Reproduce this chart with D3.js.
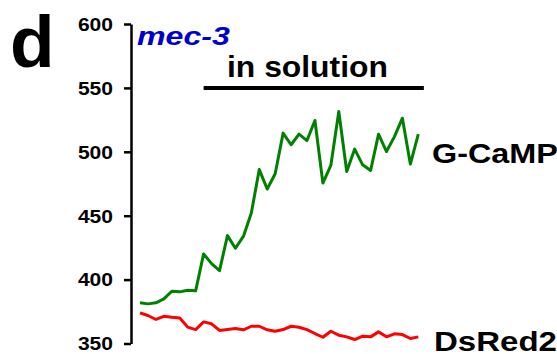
<!DOCTYPE html>
<html>
<head>
<meta charset="utf-8">
<script src="https://cdn.jsdelivr.net/npm/d3@7"></script>
<style>
  html, body { margin: 0; padding: 0; background: #fff; }
  svg { display: block; font-family: "Liberation Sans", Arial, sans-serif; }
</style>
</head>
<body>
<div id="chart"></div>
<script>
// mec-3 :: G-CaMP vs DsRed2 fluorescence, frames before/during solution

// Data
const frames = d3.range(36);
const gcamp = [381.8, 381.0, 381.8, 384.9, 390.9, 390.4, 391.6, 391.2, 420.1, 412.5,
               407.0, 434.4, 424.5, 433.8, 452.1, 486.1, 470.9, 482.8, 514.6, 505.5,
               513.8, 508.8, 524.5, 475.5, 489.3, 531.5, 484.6, 502.1, 489.8, 485.4,
               513.8, 500.2, 511.9, 526.3, 490.4, 513.8];
const dsred = [374.0, 371.9, 368.8, 371.3, 370.5, 370.0, 362.8, 360.9, 366.9, 365.4,
               360.2, 360.9, 361.7, 360.7, 363.5, 363.5, 360.7, 359.6, 360.9, 363.5,
               362.7, 360.9, 357.8, 354.9, 359.6, 356.5, 355.2, 353.1, 355.7, 355.2,
               359.1, 355.2, 357.6, 357.0, 353.9, 355.2];
const yTicks = [350, 400, 450, 500, 550, 600];
const solutionRange = [8, 35.7];   // frames covered by the "in solution" bar

const width = 557, height = 354;

const svg = d3.select('#chart')
    .append('svg')
    .attr('width', width)
    .attr('height', height);

// Scales
const x = d3.scaleLinear().domain([0, 35]).range([140, 418.3]);
const y = d3.scaleLinear().domain([350, 600]).range([343.5, 24]);

// Stretch a text horizontally so it covers the wanted width
function fitText(sel, w) {
    const len = sel.node().getComputedTextLength();
    const x0 = +sel.attr('x'), y0 = +sel.attr('y');
    sel.attr('x', 0).attr('y', 0)
        .attr('transform', `translate(${x0},${y0}) scale(${w / len},1)`);
}

// Y axis
const yAxis = d3.axisLeft(y)
    .tickValues(yTicks)
    .tickSize(7)
    .tickSizeOuter(0)
    .tickFormat(d3.format('d'));

const gAxis = svg.append('g')
    .attr('transform', 'translate(131,0)')
    .call(yAxis);

gAxis.select('.domain')
    .attr('stroke', '#000')
    .attr('stroke-width', 2.5);
gAxis.selectAll('.tick line')
    .attr('stroke', '#000')
    .attr('stroke-width', 2.5);
gAxis.selectAll('.tick text')
    .attr('fill', '#000')
    .style('font-size', '18px')
    .style('font-weight', 'bold')
    .attr('text-anchor', 'end')
    .attr('dy', '0.35em')
    .each(function() {
        const t = d3.select(this);
        t.attr('x', 0).attr('transform', 'translate(-18,0) scale(1.17,1)');
    });

// Lines
const line = d3.line()
    .x((d, i) => x(frames[i]))
    .y(d => y(d));

svg.append('path')
    .datum(dsred)
    .attr('fill', 'none')
    .attr('stroke', '#ff0000')
    .attr('stroke-width', 3)
    .attr('stroke-linejoin', 'round')
    .attr('d', line);

svg.append('path')
    .datum(gcamp)
    .attr('fill', 'none')
    .attr('stroke', '#008000')
    .attr('stroke-width', 3)
    .attr('stroke-linejoin', 'round')
    .attr('d', line);

// "in solution" bar
svg.append('line')
    .attr('x1', x(solutionRange[0]))
    .attr('x2', x(solutionRange[1]))
    .attr('y1', 88)
    .attr('y2', 88)
    .attr('stroke', '#000')
    .attr('stroke-width', 4);

// Labels
svg.append('text')
    .attr('x', 10).attr('y', 67)
    .style('font-size', '73px')
    .style('font-weight', 'bold')
    .text('d');

const gene = svg.append('text')
    .attr('x', 137).attr('y', 45)
    .style('font-size', '25px')
    .style('font-weight', 'bold')
    .style('font-style', 'italic')
    .attr('fill', '#0000cc')
    .text('mec-3');
fitText(gene, 93);

const sol = svg.append('text')
    .attr('x', 227).attr('y', 77)
    .style('font-size', '29px')
    .style('font-weight', 'bold')
    .text('in solution');
fitText(sol, 161);

const gLabel = svg.append('text')
    .attr('x', 432).attr('y', 163)
    .style('font-size', '28px')
    .style('font-weight', 'bold')
    .text('G-CaMP');
fitText(gLabel, 126);

const rLabel = svg.append('text')
    .attr('x', 434).attr('y', 351)
    .style('font-size', '28px')
    .style('font-weight', 'bold')
    .text('DsRed2');
fitText(rLabel, 123);
</script>
</body>
</html>
